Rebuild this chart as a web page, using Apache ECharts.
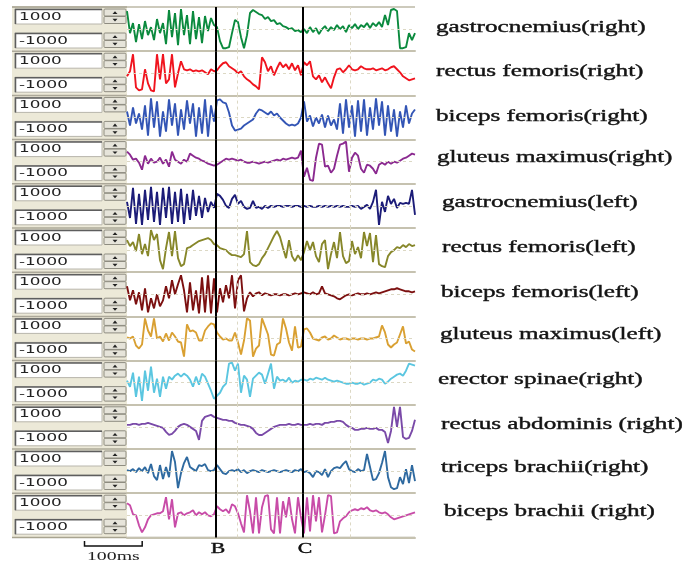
<!DOCTYPE html>
<html><head><meta charset="utf-8">
<script src="https://cdn.jsdelivr.net/npm/echarts@6/dist/echarts.min.js"></script>
<style>html,body{margin:0;padding:0;background:#fff}#c{width:686px;height:563px}</style>
</head><body><div id="c"></div>
<script>
// ---- data (EMG traces, amplitude in µV-like units, one sample per ~5.2 ms) ----
const muscles = ['gastrocnemius(right)','rectus femoris(right)','biceps femoris(right)','gluteus maximus(right)',
  'gastrocnemius(left)','rectus femoris(left)','biceps femoris(left)','gluteus maximus(left)',
  'erector spinae(right)','rectus abdominis (right)','triceps brachii(right)','biceps brachii (right)'];
const colors = ['#0b8a3e','#f0141e','#3355b5','#8b2a90','#1c1c78','#87872a','#7c1010','#d9a032','#5bc6e0','#7a4aa8','#2f6aa0','#c84ca8'];
const rangeLabels = ['1000','-1000'];
const sampleMs = 5.2;
const markerB = 29.7, markerC = 58.7;
const gridMarks = [36.6, 74.3];
const markerNames = ['B','C'];
const scaleBarMs = 100;

const gastrocRight = [900,-200,300,-650,250,-500,400,-300,100,-550,500,-200,300,-750,950,-400,800,-800,1000,-300,700,-750,900,-500,600,-700,650,-100,550,200,100,-600,-950,-950,-900,-200,450,350,-400,-950,-300,800,950,850,750,700,500,600,400,450,250,300,150,100,0,50,-100,-50,-150,0,-200,100,-150,50,-250,0,150,-100,100,-50,200,0,150,-150,200,50,250,0,200,100,300,50,300,150,350,100,700,200,950,1000,900,-950,-950,-900,-200,-550,-200];
const rectusRight = [-150,100,950,-700,-850,-800,200,-500,-850,-900,950,-300,950,-500,-300,950,-700,0,600,200,150,200,100,150,100,150,50,-50,200,100,150,350,500,550,350,250,150,0,100,-150,-300,-400,-550,-650,-800,800,550,100,350,-100,250,550,300,450,200,500,150,400,-100,550,400,600,-150,-300,-100,-450,-200,-500,-750,-200,200,250,50,200,400,200,150,200,350,250,200,200,250,150,200,250,150,200,300,350,200,50,-150,-250,-350,-300,-250];
const bicepsFemRight = [300,-400,500,-300,200,-600,600,-900,950,-500,800,-950,300,-700,900,-400,700,-900,400,-600,850,-300,700,-950,500,-800,900,-950,600,-200,850,900,750,700,250,-400,-650,-600,-550,-400,-300,-200,-100,200,400,350,250,150,300,100,200,0,-150,-300,-400,-350,-400,-300,0,800,-200,100,-450,0,-300,150,-500,100,-400,-100,-600,700,-800,900,-500,600,-950,850,-700,900,-900,500,-600,950,-400,800,-900,600,-700,400,-950,300,-500,600,-300,200,400];
const glutMaxRight = [500,350,100,150,-50,-400,300,-100,150,-50,0,200,-100,100,-250,500,100,0,-100,100,0,400,300,200,150,50,0,-100,-150,-200,-150,-50,50,150,100,150,100,50,100,0,-50,-50,0,-50,-100,-50,0,-50,0,50,100,50,150,100,150,200,150,200,550,-750,-300,-900,-950,200,900,850,-250,-200,-550,-350,300,850,900,1000,-500,200,450,300,-350,-550,-150,-200,-350,-600,-150,-50,-150,0,-100,0,-50,50,150,200,300,400,350];
const gastrocLeft = [200,-600,900,-900,600,-950,800,-700,950,-800,700,-950,900,-600,950,-900,700,-800,850,-900,600,-700,800,-500,500,-600,400,-300,200,-100,600,500,300,0,-100,350,550,100,250,-50,-150,-100,250,-100,-50,-150,0,-100,0,-50,0,0,-50,0,0,-50,0,0,-50,0,-50,0,-50,-50,0,-50,0,-50,0,-50,0,-50,0,-50,-50,0,-50,0,-150,-50,50,-150,200,800,-950,200,-300,500,100,350,-100,150,100,150,100,800,-450];
const rectusLeft = [500,200,400,-50,800,-200,300,-300,1000,500,800,-500,-950,100,900,-300,950,-400,-800,-700,100,150,250,350,450,500,550,600,500,300,250,100,50,0,-150,-250,-250,-300,-350,-200,950,-600,-750,-800,-700,-400,-200,100,400,700,950,650,100,-400,500,-300,-550,-250,-500,-100,450,0,400,-300,-600,300,500,-950,-200,400,-400,900,-300,-650,-550,450,-200,150,-400,900,200,850,-600,750,-700,-800,-850,-300,-100,0,150,100,250,150,300,200,250];
const bicepsFemLeft = [400,-300,200,-500,100,-800,300,-900,-200,-700,0,-600,-300,400,-200,700,0,500,950,200,-900,600,-800,200,-950,850,-900,950,-950,800,-900,300,-400,450,-200,950,-700,700,950,-850,-200,100,-100,50,100,-50,50,0,-50,0,0,-50,0,0,-50,0,50,0,50,100,50,0,100,0,50,400,50,0,-50,-100,-200,-250,-150,-50,0,-50,0,50,0,0,50,0,50,100,50,100,150,200,250,250,300,250,200,150,150,100,150];
const glutMaxLeft = [50,0,100,-350,-500,-300,1000,400,100,1000,0,100,-150,250,-100,300,100,-150,-200,-900,700,350,400,300,-100,-100,400,600,750,700,300,100,-50,0,-100,-100,300,-200,-800,-100,1000,900,-900,-500,-350,1000,600,200,-800,-850,-300,-200,1000,500,-200,-600,600,-450,-400,450,500,300,0,-50,-100,50,100,-50,0,150,50,-50,0,0,-50,0,0,-50,0,0,-50,0,0,50,100,650,300,-300,-450,-300,-200,200,600,-250,-150,-550,-650];
const erectorSpinae = [100,-200,500,-700,300,-900,600,-400,800,-500,200,-700,300,-300,300,150,350,450,300,450,350,150,-200,300,-100,450,300,-50,-400,-800,-650,-500,-200,-50,950,1000,600,950,-500,350,150,-700,200,350,500,400,-50,450,950,-300,300,100,150,50,250,0,100,50,150,150,100,200,150,250,200,150,250,150,100,50,100,50,0,-50,-50,0,-50,-50,0,-100,-50,0,150,100,200,150,-50,50,200,300,400,450,350,600,950,900,850];
const rectusAbd = [100,100,150,150,100,150,150,200,150,100,50,0,-50,-250,-400,-350,-200,0,100,150,100,0,-100,-200,-650,300,500,550,600,500,450,400,350,350,300,300,200,150,100,100,50,0,-100,-300,-400,-400,-300,-200,-100,0,50,100,100,100,150,100,100,150,100,100,100,150,100,150,150,100,200,200,250,250,300,300,250,100,0,-50,-150,-150,-100,-100,-50,-100,-100,-50,-150,-150,-250,-800,-200,1000,0,1000,-500,-600,-550,-200,350];
const tricepsBrachii = [50,0,100,-50,150,0,200,-100,350,-250,-450,300,-400,200,-300,1000,450,-850,-100,400,700,200,100,0,300,250,350,50,0,50,300,100,-100,-150,0,50,0,100,-50,50,-100,0,50,0,-50,50,0,-50,0,50,0,-50,0,50,0,-50,50,0,100,-50,0,-100,-300,0,-50,-200,100,-300,0,150,200,150,350,500,100,0,-50,100,0,50,850,200,-450,-400,-100,400,1000,-300,-800,-900,-850,-300,-650,100,-600,300,-500];
const bicepsBrachii = [600,500,50,0,-500,-850,-600,-200,0,50,100,100,200,900,-200,800,-600,100,150,0,100,150,250,0,150,50,150,0,-50,50,450,300,200,300,100,550,450,100,-400,-850,1000,200,-900,900,-900,400,950,1000,-700,-900,900,-900,700,-100,900,-200,-900,900,-100,-900,900,-800,1000,-300,900,-850,0,1000,950,-900,-850,-300,-150,-50,150,250,300,250,350,300,400,250,200,250,150,100,150,50,-100,-200,-150,-100,-50,0,50,100,150];

const seriesValues = [gastrocRight, rectusRight, bicepsFemRight, glutMaxRight, gastrocLeft, rectusLeft,
  bicepsFemLeft, glutMaxLeft, erectorSpinae, rectusAbd, tricepsBrachii, bicepsBrachii];

// ---- layout ----
const top0 = 7, panelH = 44.2, plotLeft = 127, plotW = 288, panelLeft = 12;
const labelPos = [[436,28],[436,72],[436,117],[437,158],[442,203],[442,248],[441,293],[440,335],[438,380],[441,425],[441,468],[444,512]];

const chart = echarts.init(document.getElementById('c'));
const grids = [], xAxes = [], yAxes = [], series = [];
const gridStyle = {color:'#dcd8c4', type:[3,3], width:1};
seriesValues.forEach((vals, i) => {
  grids.push({left: plotLeft, top: top0 + panelH * i, width: plotW, height: panelH});
  xAxes.push({gridIndex:i, type:'value', min:0, max:vals.length - 1,
    axisLabel:{show:false}, axisTick:{show:false}, splitLine:{show:false},
    axisLine:{show:true, onZero:false, lineStyle:{color:'#c6c2b0', width:2}}});
  yAxes.push({gridIndex:i, type:'value', min:-1100, max:1100,
    axisLabel:{show:false}, axisTick:{show:false}, splitLine:{show:false}, axisLine:{show:false}});
  series.push({
    name: muscles[i], type:'line', xAxisIndex:i, yAxisIndex:i,
    data: vals.map((v, k) => [k, v]), symbol:'none', animation:false,
    lineStyle:{color: colors[i], width:1.9},
    markLine:{silent:true, symbol:['none','none'], animation:false, label:{show:false},
      data:[
        {yAxis:0, lineStyle:gridStyle},
        {xAxis:gridMarks[0], lineStyle:gridStyle},
        {xAxis:gridMarks[1], lineStyle:gridStyle},
        {xAxis:markerB, lineStyle:{color:'#000', width:2, type:'solid'}},
        {xAxis:markerC, lineStyle:{color:'#000', width:2, type:'solid'}}
      ]}
  });
});
chart.setOption({backgroundColor:'#fff', animation:false, grid:grids, xAxis:xAxes, yAxis:yAxes, series:series});

// ---- decorations (control panel, labels, scale bar) ----
const g = [];
const N = seriesValues.length;
g.push({type:'rect', silent:true, shape:{x:panelLeft, y:top0, width:plotLeft - panelLeft, height:panelH * N}, style:{fill:'#ece9d8'}});
g.push({type:'line', silent:true, shape:{x1:panelLeft, y1:top0, x2:plotLeft + plotW, y2:top0}, style:{stroke:'#bcb8a6', lineWidth:1.5}});
g.push({type:'line', silent:true, shape:{x1:panelLeft, y1:top0 + panelH * N, x2:plotLeft + plotW, y2:top0 + panelH * N}, style:{stroke:'#a8a490', lineWidth:1.5}});
for (let i = 0; i < N; i++) {
  const ty = top0 + panelH * i;
  g.push({type:'line', silent:true, shape:{x1:panelLeft, y1:ty, x2:plotLeft, y2:ty}, style:{stroke:'#aca899', lineWidth:1.5}});
  [2, 26].forEach((off, j) => {
    const by = ty + off;
    g.push({type:'rect', silent:true, shape:{x:15, y:by, width:87, height:15}, style:{fill:'#fff', stroke:'#b8b6ac', lineWidth:1}});
    g.push({type:'polyline', silent:true, shape:{points:[[15.5,by+15],[15.5,by+0.5],[102,by+0.5]]}, style:{stroke:'#5e5e5e', lineWidth:1.5, fill:null}});
    g.push({type:'text', silent:true, x:19, y:by + 7.8, scaleX:1.6,
      style:{text: rangeLabels[j], fontSize:10.5, fontFamily:'DejaVu Sans', fill:'#222', align:'left', verticalAlign:'middle'}});
    // spinner
    g.push({type:'rect', silent:true, shape:{x:104, y:by, width:22, height:7, r:1}, style:{fill:'#e6e4da', stroke:'#8e8c80', lineWidth:1}});
    g.push({type:'rect', silent:true, shape:{x:104, y:by + 7.5, width:22, height:7, r:1}, style:{fill:'#e6e4da', stroke:'#8e8c80', lineWidth:1}});
    g.push({type:'polygon', silent:true, shape:{points:[[112.5,by+5],[117.5,by+5],[115,by+2.2]]}, style:{fill:'#222'}});
    g.push({type:'polygon', silent:true, shape:{points:[[112.5,by+9.8],[117.5,by+9.8],[115,by+12.5]]}, style:{fill:'#222'}});
  });
  g.push({type:'text', silent:true, x:labelPos[i][0], y:labelPos[i][1], scaleX:1.48,
    style:{text: muscles[i], fontSize:17, fontFamily:'Liberation Serif', fill:'#141414', align:'left', verticalAlign:'middle',
      stroke:'#141414', lineWidth:0.4}});
}
// marker labels B, C under the last panel
[markerB, markerC].forEach((m, j) => {
  const p = chart.convertToPixel({xAxisIndex: N - 1, yAxisIndex: N - 1}, [m, -1100]);
  g.push({type:'text', silent:true, x:p[0] + 2, y:p[1] + 11.5, scaleX:1.55,
    style:{text: markerNames[j], fontSize:14, fontFamily:'Liberation Serif', fill:'#111', align:'center', verticalAlign:'middle',
      stroke:'#111', lineWidth:0.4}});
});
// scale bar
const p0 = chart.convertToPixel({xAxisIndex:0}, 0);
const p1 = chart.convertToPixel({xAxisIndex:0}, scaleBarMs / sampleMs);
const L = p1 - p0, sx = 84.5, sy = 546;
g.push({type:'polyline', silent:true, shape:{points:[[sx,sy-5],[sx,sy],[sx+L,sy],[sx+L,sy-5]]}, style:{stroke:'#111', lineWidth:1.5, fill:null}});
g.push({type:'text', silent:true, x:sx + L / 2, y:557, scaleX:1.65,
  style:{text: scaleBarMs + 'ms', fontSize:12, fontFamily:'Liberation Serif', fill:'#222', align:'center', verticalAlign:'middle'}});
chart.setOption({graphic: g});
</script></body></html>
